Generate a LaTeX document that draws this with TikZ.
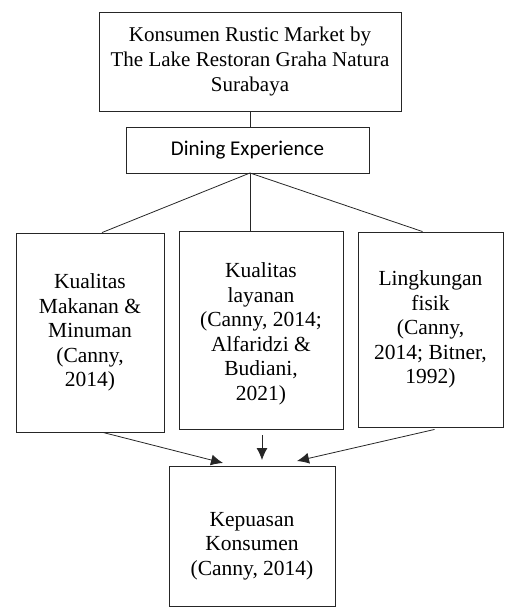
\documentclass[tikz,border=0pt]{standalone}
\usepackage{fontspec}
\setmainfont{Liberation Serif}
\newfontfamily\calibrifont{Carlito}
\usetikzlibrary{arrows.meta,calc}
\begin{document}
\begin{tikzpicture}[x=1pt,y=1pt,
  boxstyle/.style={draw=black!85, line width=0.9pt, align=center, inner sep=0pt,
    font=\fontsize{21.5}{24.5}\selectfont},
  textstyle/.style={align=center, inner sep=0pt, font=\fontsize{21.5}{24.5}\selectfont},
  linkstyle/.style={draw=black!85, line width=0.8pt},
  arrowstyle/.style={linkstyle, -{Latex[length=12pt,width=11pt]}}]
\useasboundingbox (0,0) rectangle (505,-616);
\node[boxstyle, minimum width=302pt, minimum height=99pt,
  font=\fontsize{21}{25}\selectfont] (top) at (250,-61.5)
  {Konsumen Rustic Market by\\The Lake Restoran Graha Natura\\Surabaya};
\node[boxstyle, minimum width=243pt, minimum height=46pt,
  font=\calibrifont\fontsize{21}{24}\selectfont] (dining) at (247.5,-150)
  {Dining Experience};
\node[boxstyle, minimum width=148pt, minimum height=199pt] (left) at (90,-332.5)
  {Kualitas\\Makanan \&\\Minuman\\(Canny,\\2014)};
\node[boxstyle, minimum width=164pt, minimum height=198pt] (mid) at (261,-330) {};
\node[textstyle] (midtext) at (261,-334)
  {Kualitas\\layanan\\(Canny, 2014;\\Alfaridzi \&\\Budiani,\\2021)};
\node[boxstyle, minimum width=145pt, minimum height=195pt] (right) at (430.5,-329.5)
  {Lingkungan\\fisik\\(Canny,\\2014; Bitner,\\1992)};
\node[boxstyle, minimum width=166pt, minimum height=140pt] (bottom) at (252,-536) {};
\node[textstyle] (bottomtext) at (252,-546) {Kepuasan\\Konsumen\\(Canny, 2014)};
% connectors
\draw[linkstyle] (250,-111) coordinate (t0) -- (t0 |- dining.north);
\coordinate (d0) at (250,-173);
\draw[linkstyle] (d0) -- ($(left.north)+(12,0)$);
\draw[linkstyle] (d0) -- (d0 |- mid.north);
\draw[linkstyle] (d0) -- ($(right.north)+(-8,0)$);
\coordinate (la) at ($(left.south)+(13,0)$);
\coordinate (lb) at (223,-463);
\coordinate (ma) at ($(mid.south)+(1,-6)$);
\coordinate (mb) at (262,-460);
\coordinate (ra) at ($(right.south)+(4,-2)$);
\coordinate (rb) at (297,-461);
\draw[arrowstyle] (la) -- (lb);
\draw[arrowstyle] (ma) -- (mb);
\draw[arrowstyle] (ra) -- (rb);
\end{tikzpicture}
\end{document}
